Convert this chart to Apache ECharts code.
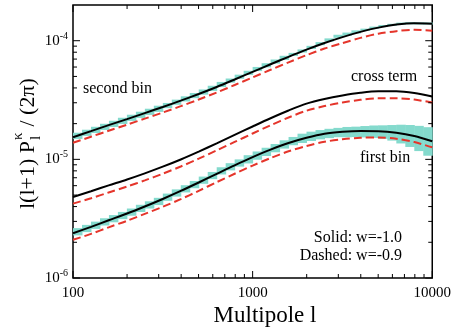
<!DOCTYPE html>
<html><head><meta charset="utf-8">
<script src="https://cdn.jsdelivr.net/npm/echarts@6/dist/echarts.min.js"></script>
<style>html,body{margin:0;padding:0;background:#fff}#c{width:454px;height:331px}</style>
</head><body><div id="c"></div><script>
// ---- data ----
const ells = [100, 126, 158, 200, 251, 316, 398, 501, 631, 794, 1000,
  1259, 1585, 1995, 2512, 3162, 3981, 5012, 6310, 7943, 10000];
const secondSolid  = [1.536e-5, 1.728e-5, 1.942e-5, 2.183e-5, 2.454e-5, 2.764e-5, 3.125e-5, 3.555e-5, 4.075e-5, 4.710e-5, 5.462e-5,
  6.333e-5, 7.316e-5, 8.408e-5, 9.561e-5, 1.073e-4, 1.187e-4, 1.289e-4, 1.367e-4, 1.404e-4, 1.393e-4];
const secondDashed = [1.380e-5, 1.552e-5, 1.744e-5, 1.961e-5, 2.204e-5, 2.483e-5, 2.807e-5, 3.193e-5, 3.660e-5, 4.231e-5, 4.906e-5,
  5.688e-5, 6.571e-5, 7.552e-5, 8.588e-5, 9.544e-5, 1.056e-4, 1.147e-4, 1.204e-4, 1.237e-4, 1.215e-4];
const crossSolid   = [4.811e-6, 5.387e-6, 6.032e-6, 6.769e-6, 7.624e-6, 8.676e-6, 9.98e-6, 1.162e-5, 1.364e-5, 1.607e-5, 1.893e-5,
  2.222e-5, 2.582e-5, 2.948e-5, 3.225e-5, 3.452e-5, 3.639e-5, 3.747e-5, 3.747e-5, 3.625e-5, 3.386e-5];
const crossDashed  = [4.238e-6, 4.700e-6, 5.262e-6, 5.905e-6, 6.651e-6, 7.569e-6, 8.707e-6, 1.0137e-5, 1.190e-5, 1.402e-5, 1.651e-5,
  1.938e-5, 2.253e-5, 2.572e-5, 2.813e-5, 3.012e-5, 3.175e-5, 3.269e-5, 3.269e-5, 3.190e-5, 3.012e-5];
const firstSolid   = [2.383e-6, 2.700e-6, 3.065e-6, 3.493e-6, 4.005e-6, 4.636e-6, 5.419e-6, 6.384e-6, 7.551e-6, 8.913e-6, 1.044e-5,
  1.208e-5, 1.374e-5, 1.521e-5, 1.645e-5, 1.707e-5, 1.734e-5, 1.728e-5, 1.677e-5, 1.573e-5, 1.421e-5];
const firstDashed  = [2.099e-6, 2.355e-6, 2.674e-6, 3.035e-6, 3.473e-6, 3.981e-6, 4.617e-6, 5.429e-6, 6.421e-6, 7.565e-6, 8.861e-6,
  1.025e-5, 1.169e-5, 1.294e-5, 1.407e-5, 1.477e-5, 1.521e-5, 1.527e-5, 1.492e-5, 1.399e-5, 1.264e-5];

// binned measurement (error boxes)
const binEdges = [100, 112.2, 125.9, 141.3, 158.5, 177.8, 199.5, 223.9, 251.2, 281.8,
  316.2, 354.8, 398.1, 446.7, 501.2, 562.3, 631.0, 707.9, 794.3, 891.3,
  1000, 1122, 1259, 1413, 1585, 1778, 1995, 2239, 2512, 2818,
  3162, 3548, 3981, 4467, 5012, 5623, 6310, 7079, 7943, 8913, 10000];
const firstBinMid = [2.46e-6, 2.62e-6, 2.79e-6, 2.98e-6, 3.17e-6, 3.37e-6, 3.60e-6, 3.87e-6, 4.14e-6, 4.43e-6,
  4.81e-6, 5.22e-6, 5.66e-6, 6.14e-6, 6.69e-6, 7.32e-6, 8.02e-6, 8.68e-6, 9.34e-6, 1.004e-5,
  1.079e-5, 1.160e-5, 1.247e-5, 1.340e-5, 1.430e-5, 1.510e-5, 1.570e-5, 1.620e-5, 1.660e-5, 1.690e-5,
  1.705e-5, 1.715e-5, 1.720e-5, 1.723e-5, 1.713e-5, 1.693e-5, 1.660e-5, 1.610e-5, 1.545e-5, 1.470e-5];
const firstBinErr = [0.07, 0.07, 0.07, 0.07, 0.07, 0.07, 0.07, 0.07, 0.07, 0.07,
  0.07, 0.07, 0.07, 0.07, 0.07, 0.07, 0.07, 0.07, 0.07, 0.08,
  0.08, 0.08, 0.08, 0.08, 0.08, 0.09, 0.09, 0.09, 0.09, 0.09,
  0.10, 0.10, 0.11, 0.12, 0.13, 0.15, 0.18, 0.21, 0.24, 0.27];
const secondBinMid = [1.582e-5, 1.677e-5, 1.775e-5, 1.882e-5, 1.995e-5, 2.115e-5, 2.243e-5, 2.378e-5, 2.521e-5, 2.673e-5,
  2.846e-5, 3.036e-5, 3.237e-5, 3.452e-5, 3.697e-5, 3.974e-5, 4.280e-5, 4.617e-5, 4.974e-5, 5.366e-5,
  5.779e-5, 6.212e-5, 6.677e-5, 7.177e-5, 7.668e-5, 8.194e-5, 8.793e-5, 9.45e-5, 1.016e-4, 1.090e-4,
  1.137e-4, 1.187e-4, 1.239e-4, 1.289e-4, 1.330e-4, 1.361e-4, 1.393e-4, 1.404e-4, 1.399e-4, 1.396e-4];
const secondBinErr = [0.06, 0.06, 0.06, 0.06, 0.06, 0.06, 0.06, 0.06, 0.06, 0.06,
  0.05, 0.05, 0.05, 0.05, 0.05, 0.05, 0.05, 0.04, 0.04, 0.04,
  0.04, 0.04, 0.04, 0.04, 0.03, 0.03, 0.03, 0.03, 0.03, 0.03,
  0.03, 0.03, 0.02, 0.02, 0.02, 0.02, 0.02, 0.02, 0.02, 0.02];

const xMajorTicks = [100, 1000, 10000];
const xMinorTicks = [200, 300, 400, 500, 600, 700, 800, 900, 2000, 3000, 4000, 5000, 6000, 7000, 8000, 9000];
const yMajorTicks = [1e-6, 1e-5, 1e-4];
const yMinorTicks = [2e-6, 3e-6, 4e-6, 5e-6, 6e-6, 7e-6, 8e-6, 9e-6, 2e-5, 3e-5, 4e-5, 5e-5, 6e-5, 7e-5, 8e-5, 9e-5];

// ---- chart ----
const SERIF = '"Liberation Serif", "Times New Roman", serif';
const RED = '#e5352b', BAND = '#84dacd';
const chart = echarts.init(document.getElementById('c'));
const pairs = (xs, ys) => xs.map((x, i) => [x, ys[i]]);
const bandData = (mid, err) => mid.map((m, i) => [binEdges[i], binEdges[i + 1], m * (1 - err[i]), m * (1 + err[i])]);
const isPow10 = v => Math.abs(Math.log10(v) - Math.round(Math.log10(v))) < 1e-6;

function bandSeries(mid, err) {
  return {
    type: 'custom', silent: true, z: 1, clip: true,
    data: bandData(mid, err),
    encode: { x: [0, 1], y: [2, 3] },
    renderItem: (params, api) => {
      const p0 = api.coord([api.value(0), api.value(3)]);
      const p1 = api.coord([api.value(1), api.value(2)]);
      return { type: 'rect', shape: { x: p0[0], y: p0[1], width: p1[0] - p0[0] + 0.5, height: p1[1] - p0[1] },
               style: { fill: BAND } };
    }
  };
}
function lineSeries(ys, dashed) {
  return {
    type: 'line', data: pairs(ells, ys), smooth: 0.3, showSymbol: false, silent: true, z: 3,
    lineStyle: dashed ? { color: RED, width: 2, type: [8, 4] } : { color: '#000', width: 2 }
  };
}
function xTickSeries(vals, len) {
  return {
    type: 'custom', silent: true, z: 6, data: vals.map(v => [v, 1e-5]),
    renderItem: (params, api) => {
      const cs = params.coordSys;
      const x = api.coord([api.value(0), 1e-5])[0];
      const st = { stroke: '#000', lineWidth: 1 };
      return { type: 'group', children: [
        { type: 'line', shape: { x1: x, y1: cs.y + cs.height, x2: x, y2: cs.y + cs.height - len }, style: st },
        { type: 'line', shape: { x1: x, y1: cs.y, x2: x, y2: cs.y + len }, style: st }
      ]};
    }
  };
}
function yTickSeries(vals, len) {
  return {
    type: 'custom', silent: true, z: 6, data: vals.map(v => [1000, v]),
    renderItem: (params, api) => {
      const cs = params.coordSys;
      const y = api.coord([1000, api.value(1)])[1];
      const st = { stroke: '#000', lineWidth: 1 };
      return { type: 'group', children: [
        { type: 'line', shape: { x1: cs.x, y1: y, x2: cs.x + len, y2: y }, style: st },
        { type: 'line', shape: { x1: cs.x + cs.width, y1: y, x2: cs.x + cs.width - len, y2: y }, style: st }
      ]};
    }
  };
}
const txt = (x, y, text, size, align) => ({
  type: 'text', x: x, y: y, z: 10, silent: true,
  style: { text: text, font: size + 'px ' + SERIF, fill: '#000', textAlign: align, textVerticalAlign: 'middle', align: align, verticalAlign: 'middle' }
});

chart.setOption({
  animation: false,
  backgroundColor: '#fff',
  grid: { left: 73, right: 18, top: 5, bottom: 53, show: true, borderColor: '#000', borderWidth: 1.5, backgroundColor: 'transparent' },
  xAxis: {
    type: 'log', logBase: 10, min: 100, max: 10000,
    axisLine: { show: false }, axisTick: { show: false }, splitLine: { show: false },
    axisLabel: { margin: 8, fontFamily: SERIF, fontSize: 15, color: '#000',
      formatter: v => isPow10(v) ? String(Math.round(v)) : '' }
  },
  yAxis: {
    type: 'log', logBase: 10, min: 1e-6, max: 2e-4,
    axisLine: { show: false }, axisTick: { show: false }, splitLine: { show: false },
    axisLabel: { margin: 5, color: '#000', fontFamily: SERIF,
      formatter: v => isPow10(v) ? '{b|10}{s|' + Math.round(Math.log10(v)) + '}' : '',
      rich: { b: { fontFamily: SERIF, fontSize: 15, color: '#000' },
              s: { fontFamily: SERIF, fontSize: 10, color: '#000', padding: [0, 0, 9, 0] } } }
  },
  series: [
    bandSeries(firstBinMid, firstBinErr),
    bandSeries(secondBinMid, secondBinErr),
    lineSeries(secondDashed, true), lineSeries(crossDashed, true), lineSeries(firstDashed, true),
    lineSeries(secondSolid, false), lineSeries(crossSolid, false), lineSeries(firstSolid, false),
    xTickSeries(xMajorTicks, 7), xTickSeries(xMinorTicks, 4),
    yTickSeries(yMajorTicks, 7), yTickSeries(yMinorTicks, 4)
  ],
  graphic: [
    txt(83, 89, 'second bin', 16, 'left'),
    txt(351, 77, 'cross term', 16, 'left'),
    txt(360, 158, 'first bin', 16, 'left'),
    txt(402, 238, 'Solid: w=-1.0', 16, 'right'),
    txt(402, 256, 'Dashed: w=-0.9', 16, 'right'),
    txt(265, 316, 'Multipole l', 23, 'center'),
    { type: 'group', x: 28, y: 143, rotation: Math.PI / 2, silent: true, children: [
      { type: 'text', x: 2, y: 0, style: { text: 'l(l+1) P', font: '22px ' + SERIF, fill: '#000', textAlign: 'right', textVerticalAlign: 'middle', align: 'right', verticalAlign: 'middle' } },
      { type: 'text', x: 3, y: -10, style: { text: 'κ', font: '15px ' + SERIF, fill: '#000', textAlign: 'left', textVerticalAlign: 'middle', align: 'left', verticalAlign: 'middle' } },
      { type: 'text', x: 3, y: 8, style: { text: 'l', font: '15px ' + SERIF, fill: '#000', textAlign: 'left', textVerticalAlign: 'middle', align: 'left', verticalAlign: 'middle' } },
      { type: 'text', x: 11, y: 0, style: { text: ' / (2π)', font: '22px ' + SERIF, fill: '#000', textAlign: 'left', textVerticalAlign: 'middle', align: 'left', verticalAlign: 'middle' } }
    ]}
  ]
});
</script></body></html>
